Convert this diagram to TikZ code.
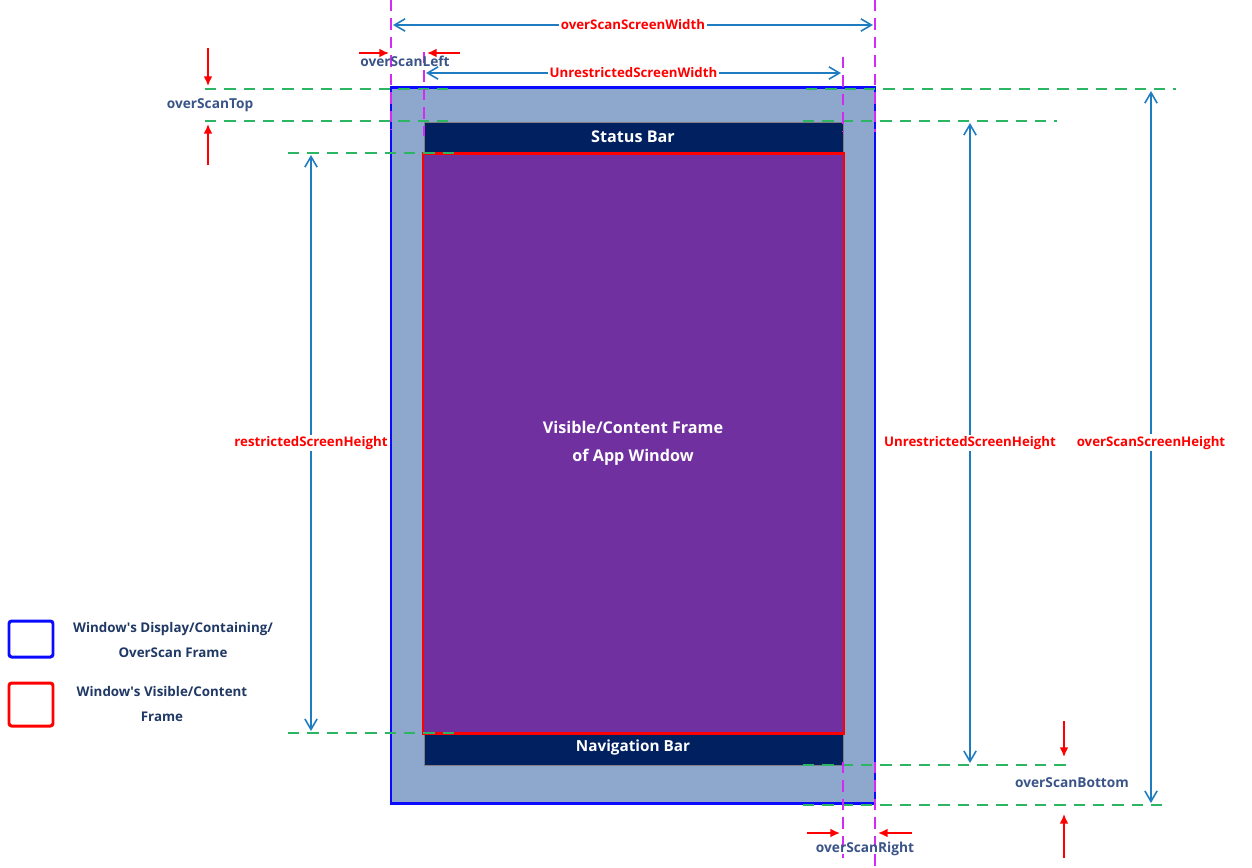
\documentclass[tikz,border=0pt]{standalone}
\usepackage{fontspec}
\setmainfont{Open Sans}
\usetikzlibrary{arrows.meta}
\definecolor{scanfill}{HTML}{8EA7CD}
\definecolor{barfill}{HTML}{002060}
\definecolor{appfill}{HTML}{7030A0}
\definecolor{dimblue}{HTML}{1F7CC1}
\definecolor{guidegreen}{HTML}{2CB664}
\definecolor{edgepink}{HTML}{D42AF5}
\definecolor{scanblue}{HTML}{0A0AFF}
\definecolor{labelblue}{HTML}{3A5488}
\definecolor{legendtext}{HTML}{1F3864}

\begin{document}
\begin{tikzpicture}[x=0.02cm,y=-0.02cm,
      guide/.style={draw=guidegreen,line width=1.1pt,dash pattern=on 6.5pt off 4.5pt},
      edge/.style={draw=edgepink,line width=1.1pt,dash pattern=on 6.5pt off 4pt},
      dim/.style={draw=dimblue,line width=0.9pt,
        {Straight Barb[length=6pt,width=7pt]}-{Straight Barb[length=6pt,width=7pt]}},
      tick/.style={draw=red,line width=0.9pt,-{Latex[length=5.5pt,width=5pt]}},
      dimlabel/.style={fill=white,text=red,inner sep=1pt,
        font=\bfseries\fontsize{7.55}{9}\selectfont},
      scanlabel/.style={text=labelblue,inner sep=1pt,
        font=\bfseries\fontsize{7.8}{9}\selectfont},
      bartext/.style={text=white,font=\bfseries\fontsize{9}{10}\selectfont},
      legendlabel/.style={text=legendtext,align=center,
        font=\bfseries\fontsize{7.6}{14}\selectfont}]
      \useasboundingbox (0,0) rectangle (1252,867);

      \draw[draw=scanblue,line width=1.7pt,fill=scanfill] (391,87) rectangle (875,803);
      \draw[draw=gray,fill=barfill] (424,122) rectangle (843,765);
      \draw[draw=red,line width=1.7pt,fill=appfill] (423,153) rectangle (844,733);
      \node[bartext,font=\bfseries\fontsize{9.2}{10}\selectfont] (status) at (633,137) {Status Bar};
      \node[bartext,font=\bfseries\fontsize{8.7}{10}\selectfont] (nav) at (633,748) {Navigation Bar};
      \node[bartext,align=center,font=\bfseries\fontsize{9.2}{16}\selectfont]
        (app) at (633,443) {Visible/Content Frame\\of App Window};

      \draw[guide] (205,89) -- (455,89);
      \draw[guide] (806,89) -- (1176,89);
      \draw[guide] (205,121) -- (455,121);
      \draw[guide] (803,121) -- (1057,121);
      \draw[guide] (288,153) -- (460,153);
      \draw[guide] (288,733) -- (460,733);
      \draw[guide] (803,765) -- (1072,765);
      \draw[guide] (803,805) -- (1168,805);

      \draw[edge] (391,0) -- (391,130);
      \draw[edge] (424,52) -- (424,136);
      \draw[edge] (843,57) -- (843,132);
      \draw[edge] (875,0) -- (875,132);
      \draw[edge] (843,762) -- (843,858);
      \draw[edge] (875,762) -- (875,867);

      \coordinate (osw-l) at (393,25);
      \coordinate (osw-r) at (873,25);
      \coordinate (usw-l) at (426,73);
      \coordinate (usw-r) at (841,73);
      \coordinate (rsh-t) at (311,155);
      \coordinate (rsh-b) at (311,731);
      \coordinate (ush-t) at (970,123);
      \coordinate (ush-b) at (970,763);
      \coordinate (osh-t) at (1151,91);
      \coordinate (osh-b) at (1151,803);
      \draw[dim] (osw-l) -- node[dimlabel] (oswl) {overScanScreenWidth} (osw-r);
      \draw[dim] (usw-l) -- node[dimlabel] (uswl) {UnrestrictedScreenWidth} (usw-r);
      \draw[dim] (rsh-t) -- node[dimlabel] (rshl) {restrictedScreenHeight} (rsh-b);
      \draw[dim] (ush-t) -- node[dimlabel] (ushl) {UnrestrictedScreenHeight} (ush-b);
      \draw[dim] (osh-t) -- node[dimlabel,pos=0.494] (oshl) {overScanScreenHeight} (osh-b);

      \coordinate (top-a) at (208,48);
      \coordinate (top-b) at (208,86);
      \coordinate (top-c) at (208,165);
      \coordinate (top-d) at (208,124);
      \draw[tick] (top-a) -- (top-b);
      \draw[tick] (top-c) -- (top-d);
      \node[scanlabel] (top) at (210,105) {overScanTop};

      \coordinate (left-a) at (359,53);
      \coordinate (left-b) at (389,53);
      \coordinate (left-c) at (460,53);
      \coordinate (left-d) at (427,53);
      \draw[tick] (left-a) -- (left-b);
      \draw[tick] (left-c) -- (left-d);
      \node[scanlabel] (left) at (405,61) {overScanLeft};

      \coordinate (right-a) at (807,833);
      \coordinate (right-b) at (840,833);
      \coordinate (right-c) at (912,833);
      \coordinate (right-d) at (878,833);
      \draw[tick] (right-a) -- (right-b);
      \draw[tick] (right-c) -- (right-d);
      \node[scanlabel] (right) at (865,849) {overScanRight};

      \coordinate (bottom-a) at (1064,721);
      \coordinate (bottom-b) at (1064,757);
      \coordinate (bottom-c) at (1064,858);
      \coordinate (bottom-d) at (1064,814);
      \draw[tick] (bottom-a) -- (bottom-b);
      \draw[tick] (bottom-c) -- (bottom-d);
      \node[scanlabel] (bottom) at (1072,783) {overScanBottom};

      \draw[draw=scanblue,line width=1.7pt,rounded corners=1.5pt] (9,621) rectangle (53,657);
      \draw[draw=red,line width=1.7pt,rounded corners=1.5pt] (9,683) rectangle (53,726);
      \node[legendlabel] (legend-scan) at (173,640) {Window\textquotesingle s Display/Containing/\\OverScan Frame};
      \node[legendlabel] (legend-app) at (162,704) {Window\textquotesingle s Visible/Content\\Frame};
    \end{tikzpicture}
\end{document}
